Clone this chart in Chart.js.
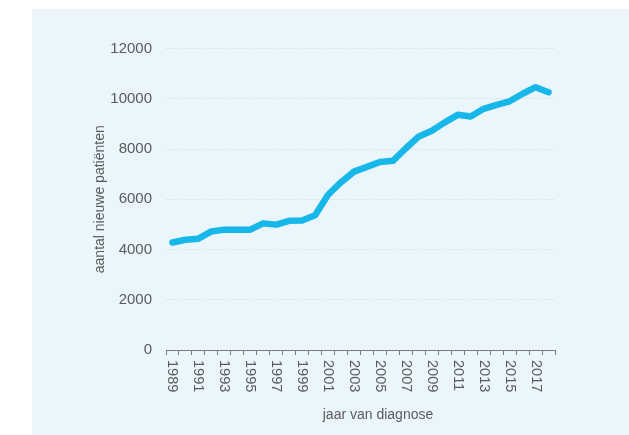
<!DOCTYPE html>
<html lang="nl">
<head>
<meta charset="utf-8">
<title>Aantal nieuwe patiënten per jaar van diagnose</title>
<script src="https://cdn.jsdelivr.net/npm/chart.js@4.4.1/dist/chart.umd.min.js"></script>
<style>
  html, body { margin: 0; padding: 0; background: #fff; }
  #panel {
    position: absolute;
    left: 32px; top: 9px;
    width: 597px; height: 426px;
    background: #eaf5fc;
  }
  #chartPatienten { display: block; }
</style>
</head>
<body>
<div id="panel">
  <canvas id="chartPatienten" width="597" height="426"></canvas>
</div>
<script>
// jaar van diagnose
const jaren = ['1989', '1990', '1991', '1992', '1993', '1994', '1995', '1996', '1997', '1998',
  '1999', '2000', '2001', '2002', '2003', '2004', '2005', '2006', '2007', '2008',
  '2009', '2010', '2011', '2012', '2013', '2014', '2015', '2016', '2017', '2018'];

// aantal nieuwe patiënten
const nieuwePatienten = [4280, 4390, 4430, 4720, 4790, 4790, 4790, 5040, 4990, 5140,
  5150, 5360, 6180, 6680, 7100, 7290, 7480, 7530, 8030, 8500,
  8730, 9060, 9360, 9290, 9600, 9760, 9900, 10200, 10460, 10260];

// alleen de oneven jaren krijgen een label
const jaarLabels = ['1989', '1991', '1993', '1995', '1997', '1999', '2001', '2003',
  '2005', '2007', '2009', '2011', '2013', '2015', '2017'];

const yTicks = [0, 2000, 4000, 6000, 8000, 10000, 12000];

const FONT = '"Liberation Sans", Arial, sans-serif';
const TEXT_COLOR = '#5b5b5b';

// x-labels staan van boven naar beneden geschreven, dat kan Chart.js zelf niet
const verticalLabels = {
  id: 'verticalLabels',
  afterDraw(chart) {
    const { ctx, scales: { x } } = chart;
    ctx.save();
    ctx.fillStyle = TEXT_COLOR;
    ctx.font = '14.5px ' + FONT;
    ctx.textAlign = 'left';
    ctx.textBaseline = 'middle';
    jaren.forEach((jaar, i) => {
      if (!jaarLabels.includes(jaar)) return;
      ctx.save();
      ctx.translate(x.getPixelForTick(i), x.top + 10);
      ctx.rotate(Math.PI / 2);
      ctx.fillText(jaar, 0, 0);
      ctx.restore();
    });

    ctx.font = '14px ' + FONT;
    ctx.textAlign = 'center';
    ctx.fillText('jaar van diagnose', 346, 406);
    ctx.restore();
  }
};

new Chart(document.getElementById('chartPatienten'), {
  type: 'line',
  data: {
    labels: jaren,
    datasets: [{
      label: 'aantal nieuwe patiënten',
      data: nieuwePatienten,
      borderColor: '#17b7ea',
      borderWidth: 6.5,
      borderCapStyle: 'round',
      borderJoinStyle: 'round',
      pointRadius: 0,
      pointHoverRadius: 0,
      tension: 0,
      fill: false
    }]
  },
  options: {
    responsive: false,
    animation: false,
    layout: { padding: { left: 55.6, right: 74, top: 39.5, bottom: 0 } },
    plugins: {
      legend: { display: false },
      tooltip: { enabled: false }
    },
    scales: {
      x: {
        offset: true,
        grid: {
          offset: true,
          drawOnChartArea: false,
          drawTicks: true,
          tickLength: 5,
          color: '#7d7d7d'
        },
        border: { display: true, color: '#7d7d7d', width: 1 },
        ticks: { display: false, autoSkip: false },
        afterFit(scale) {
          scale.height = 85;
          scale.paddingLeft = 0;
          scale.paddingRight = 0;
        }
      },
      y: {
        min: yTicks[0],
        max: yTicks[yTicks.length - 1],
        afterBuildTicks(scale) {
          scale.ticks = yTicks.map(v => ({ value: v }));
        },
        grid: {
          drawTicks: false,
          color: '#c9d3d9',
          lineWidth: 1
        },
        border: { display: false, dash: [1, 2] },
        ticks: {
          padding: 14,
          color: TEXT_COLOR,
          font: { family: FONT, size: 15 },
          callback: v => String(v)
        },
        title: {
          display: true,
          text: 'aantal nieuwe patiënten',
          color: TEXT_COLOR,
          font: { family: FONT, size: 14 },
          padding: { top: 4, bottom: 4 }
        },
        afterFit(scale) {
          scale.width = 78.4;
          scale.paddingTop = 0;
          scale.paddingBottom = 0;
        }
      }
    }
  },
  plugins: [verticalLabels]
});
</script>
</body>
</html>
